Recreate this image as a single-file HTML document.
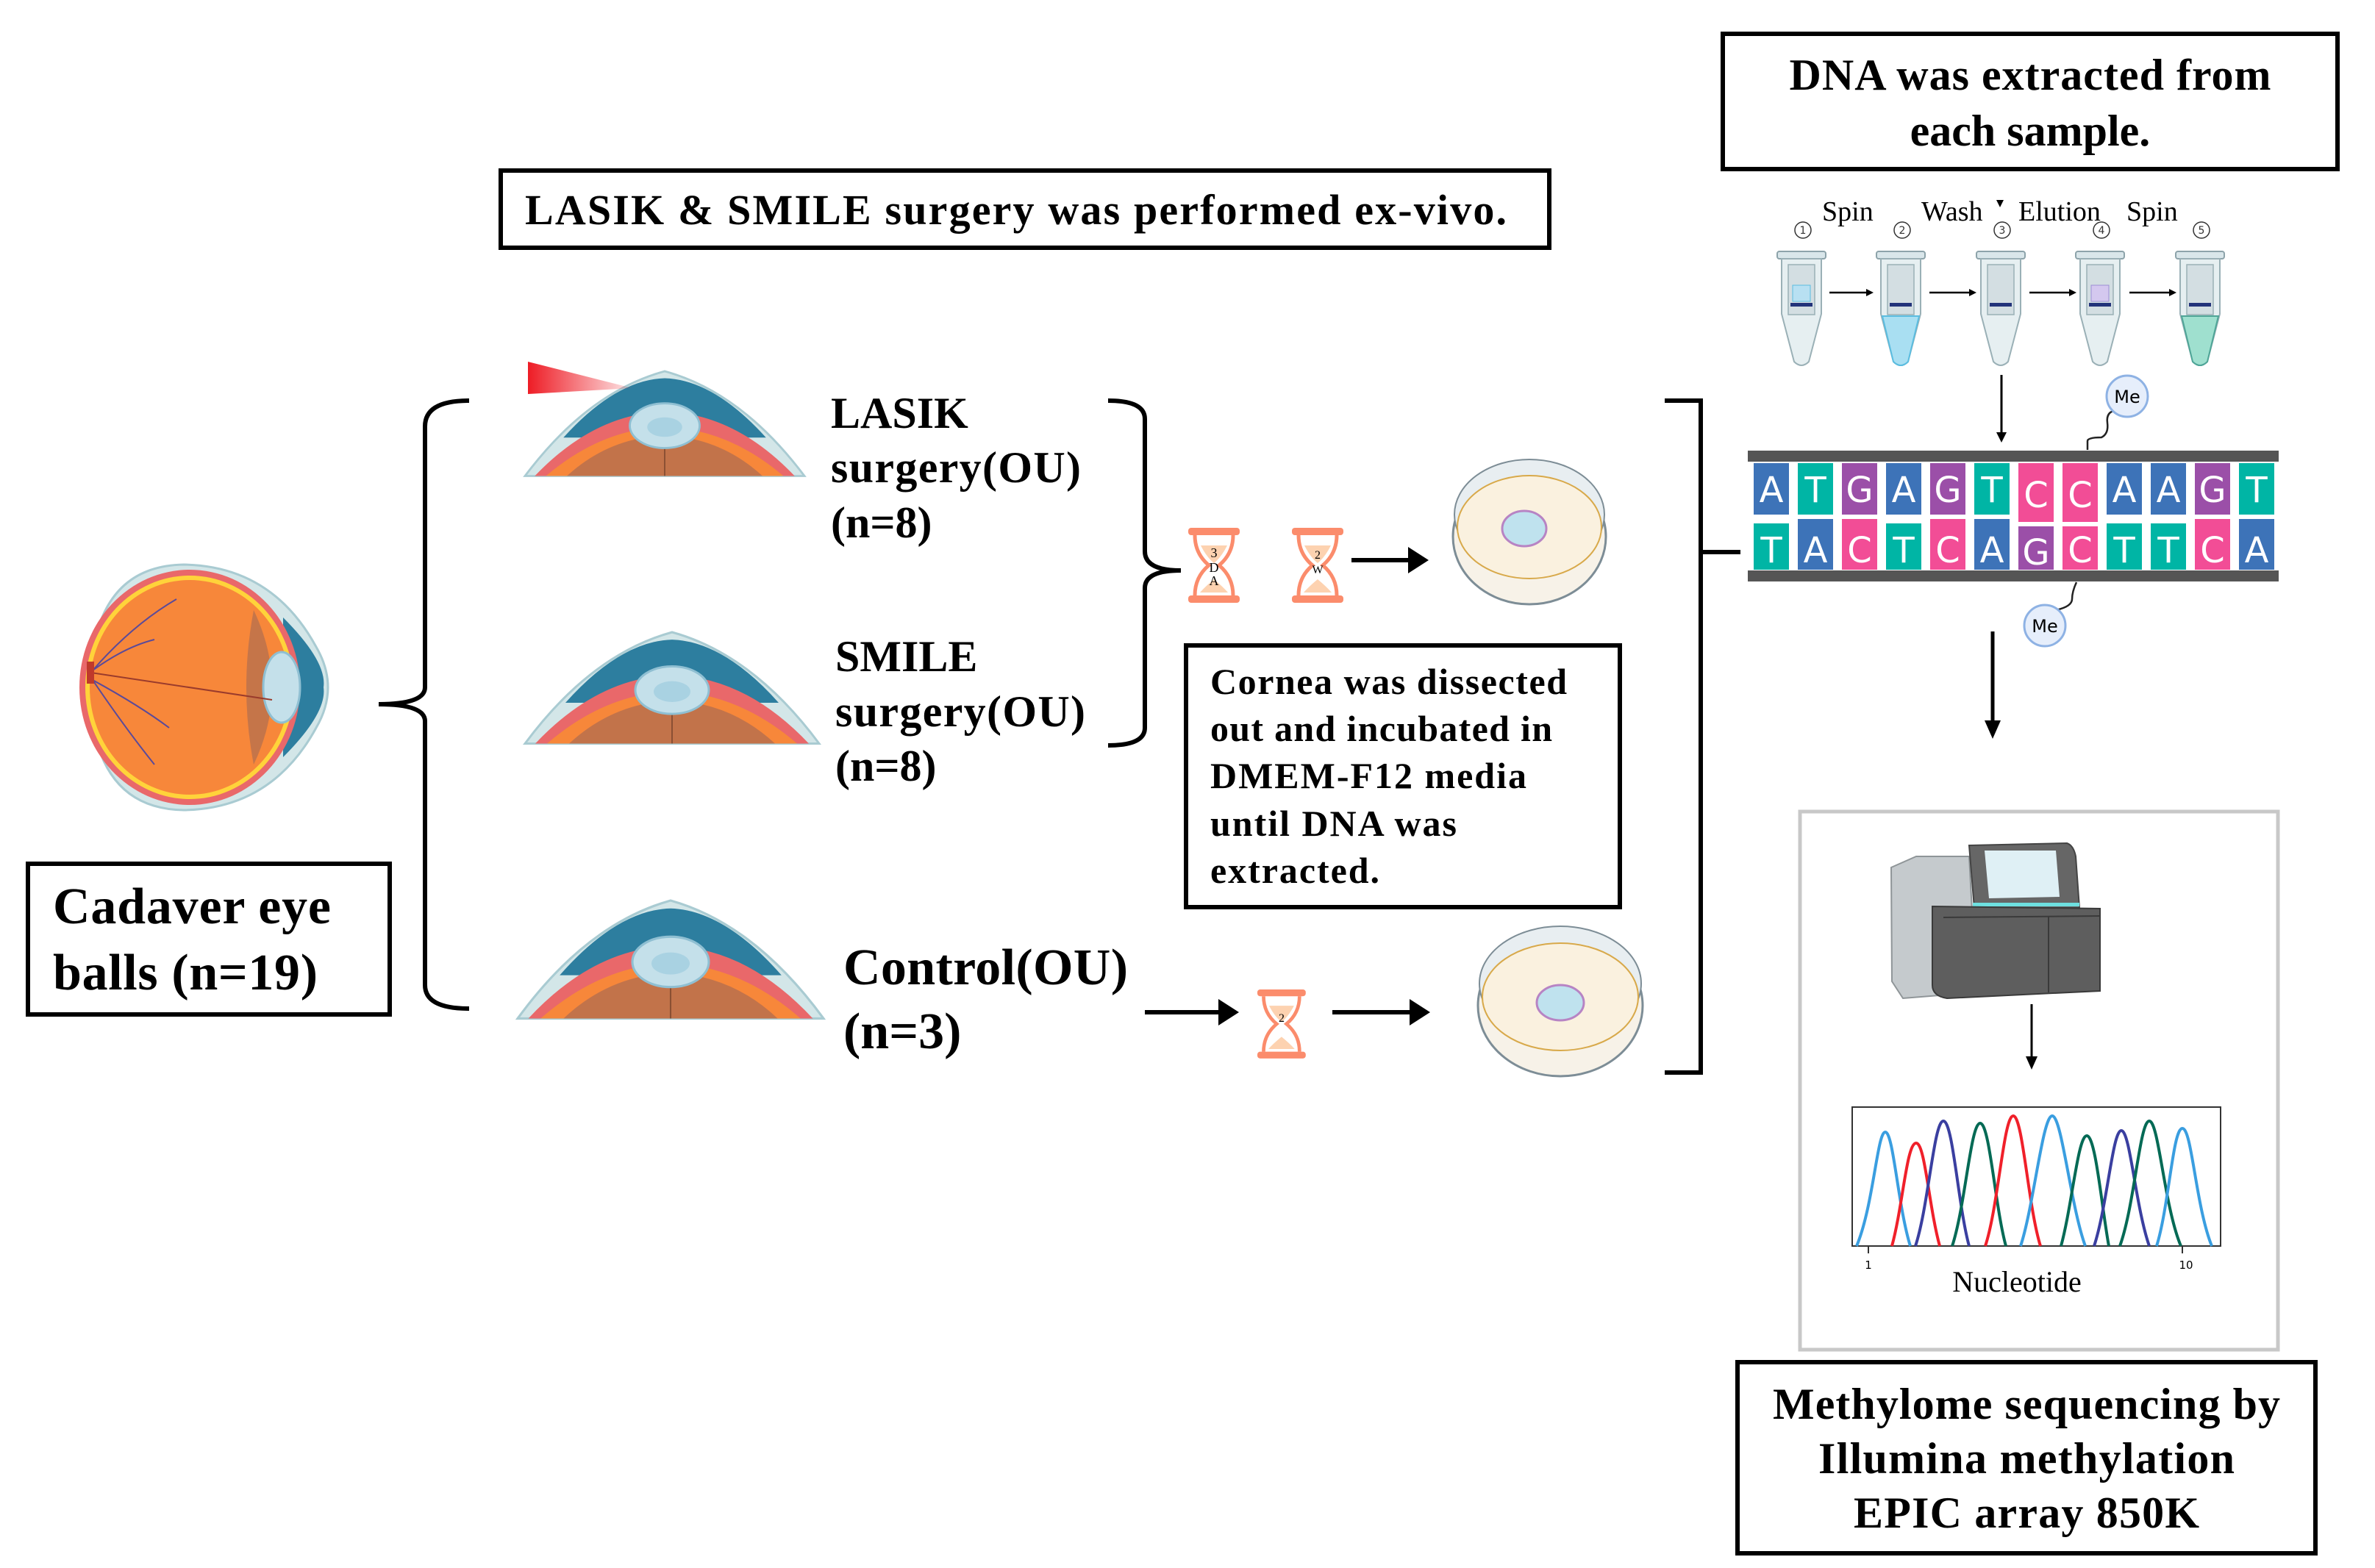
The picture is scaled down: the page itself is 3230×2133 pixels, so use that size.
<!DOCTYPE html>
<html><head><meta charset="utf-8"><style>
html,body{margin:0;padding:0;background:#fff;}
svg{display:block;}
text{font-family:"Liberation Serif",serif;}
.sans text{font-family:"DejaVu Sans",sans-serif;}
</style></head><body>
<svg width="3230" height="2133" viewBox="0 0 3230 2133" xmlns="http://www.w3.org/2000/svg">
<defs>
 <g id="eyehalf">
  <path d="M0,150 Q90,30 200,0 Q310,30 400,150 Z" fill="#d3e6e8" stroke="#a9cbd2" stroke-width="3"/>
  <path d="M55,95 Q130,12 200,10 Q270,12 345,95 Z" fill="#2d7e9f"/>
  <path d="M90,90 Q200,40 310,90 Z" fill="#1e5f80"/>
  <path d="M14,150 Q100,60 200,58 Q300,60 386,150 Z" fill="#e9686a"/>
  <path d="M30,150 Q110,82 200,80 Q290,82 370,150 Z" fill="#f7873a"/>
  <path d="M60,150 Q120,95 200,92 Q280,95 340,150 Z" fill="#b8704d" opacity="0.85"/>
  <line x1="200" y1="95" x2="200" y2="150" stroke="#8a4f33" stroke-width="2"/>
  <ellipse cx="200" cy="78" rx="50" ry="32" fill="#c4e0ea" stroke="#8fbfd2" stroke-width="3"/>
  <ellipse cx="200" cy="80" rx="25" ry="14" fill="#a9d2e2"/>
 </g>
 <g id="hg">
  <rect x="0" y="0" width="70" height="10" rx="4" fill="#fb8c6c"/>
  <rect x="0" y="92" width="70" height="10" rx="4" fill="#fb8c6c"/>
  <path d="M9,10 Q9,35 28,51 Q9,67 9,92 M61,10 Q61,35 42,51 Q61,67 61,92" fill="none" stroke="#fb8c6c" stroke-width="5"/>
  <path d="M17,24 L53,24 Q45,40 35,48 Q25,40 17,24 Z M35,70 Q47,80 54,88 L16,88 Q23,80 35,70 Z" fill="#fdd2b0"/>
 </g>
 <g id="tube">
  <rect x="-33" y="0" width="66" height="10" rx="3" fill="#d9e6ea" stroke="#8da3aa" stroke-width="2"/>
  <path d="M-27,10 L27,10 L27,85 L10,150 Q0,160 -10,150 L-27,85 Z" fill="#e6eff1" stroke="#9ab0b6" stroke-width="2"/>
  <rect x="-18" y="18" width="36" height="68" fill="#d3dee2" stroke="#9ab0b6" stroke-width="1.5"/>
 </g>
 <linearGradient id="laser" x1="0" x2="1"><stop offset="0" stop-color="#ee1c25"/><stop offset="1" stop-color="#ee1c25" stop-opacity="0.1"/></linearGradient>
</defs>

<rect x="38" y="1175" width="492" height="205" fill="none" stroke="#000" stroke-width="6"/>
<text x="72" y="1256" font-size="70" font-weight="bold" textLength="378">Cadaver eye</text>
<text x="72" y="1346" font-size="70" font-weight="bold" textLength="360">balls (n=19)</text>

<g>
 <path d="M250,768 Q370,770 430,880 Q462,935 430,990 Q370,1100 250,1102 Q125,1100 122,935 Q125,770 250,768 Z" fill="#d3e6e8" stroke="#a9cbd2" stroke-width="3"/>
 <path d="M385,840 Q445,900 440,935 Q445,970 385,1030 Z" fill="#2d7e9f"/>
 <ellipse cx="258" cy="935" rx="150" ry="160" fill="#e9686a"/>
 <ellipse cx="258" cy="935" rx="142" ry="152" fill="#ffd33a"/>
 <ellipse cx="258" cy="935" rx="136" ry="146" fill="#f7873a"/>
 <path d="M345,830 Q395,935 345,1040 Q325,935 345,830 Z" fill="#b8704d" opacity="0.8"/>
 <ellipse cx="383" cy="935" rx="25" ry="48" fill="#c4e0ea" stroke="#8fbfd2" stroke-width="3"/>
 <line x1="124" y1="915" x2="370" y2="952" stroke="#9a3b2c" stroke-width="2"/>
 <path d="M126,912 Q180,850 240,815 M126,912 Q170,880 210,870 M126,925 Q170,990 210,1040 M126,925 Q190,960 230,990" fill="none" stroke="#5a4a9a" stroke-width="2"/>
 <rect x="118" y="900" width="10" height="30" fill="#c0392b"/>
</g>

<path d="M638,545 Q578,545 578,580 L578,935 Q578,958 515,958 Q578,958 578,981 L578,1340 Q578,1372 638,1372" fill="none" stroke="#000" stroke-width="6"/>

<rect x="681" y="232" width="1426" height="105" fill="none" stroke="#000" stroke-width="6"/>
<text x="714" y="305" font-size="58" font-weight="bold" textLength="1335">LASIK &amp; SMILE surgery was performed ex-vivo.</text>

<use href="#eyehalf" transform="translate(714,505) scale(0.95,0.95)"/>
<path d="M718,492 L860,528 L718,536 Z" fill="url(#laser)"/>
<use href="#eyehalf" transform="translate(714,860) scale(1.0,1.01)"/>
<use href="#eyehalf" transform="translate(704,1225) scale(1.04,1.07)"/>

<g font-weight="bold" font-size="60">
<text x="1130" y="582">LASIK</text>
<text x="1130" y="656" textLength="340">surgery(OU)</text>
<text x="1130" y="731">(n=8)</text>
<text x="1136" y="913">SMILE</text>
<text x="1136" y="988" textLength="340">surgery(OU)</text>
<text x="1136" y="1062">(n=8)</text>
</g>
<g font-weight="bold" font-size="70">
<text x="1147" y="1339" textLength="387">Control(OU)</text>
<text x="1147" y="1426">(n=3)</text>
</g>

<path d="M1507,545 Q1557,545 1557,570 L1557,750 Q1557,776 1606,776 Q1557,776 1557,800 L1557,990 Q1557,1014 1507,1014" fill="none" stroke="#000" stroke-width="6"/>

<use href="#hg" transform="translate(1616,718)"/>
<text x="1651" y="758" font-size="18" text-anchor="middle">3</text>
<text x="1651" y="778" font-size="18" text-anchor="middle">D</text>
<text x="1651" y="796" font-size="18" text-anchor="middle">A</text>
<use href="#hg" transform="translate(1757,718)"/>
<text x="1792" y="760" font-size="16" text-anchor="middle">2</text>
<text x="1792" y="780" font-size="16" text-anchor="middle">W</text>
<line x1="1838" y1="762" x2="1920" y2="762" stroke="#000" stroke-width="6"/>
<path d="M1915,744 L1943,762 L1915,780 Z" fill="#000"/>

<g>
 <ellipse cx="2080" cy="730" rx="104" ry="92" fill="#f7f2e8" stroke="#7d8d96" stroke-width="3"/>
 <ellipse cx="2080" cy="700" rx="102" ry="75" fill="#e8eef1" stroke="#7d8d96" stroke-width="2"/>
 <ellipse cx="2080" cy="717" rx="98" ry="70" fill="#faf1df" stroke="#d8a94a" stroke-width="2"/>
 <ellipse cx="2073" cy="719" rx="30" ry="24" fill="#bfe2ee" stroke="#b784c4" stroke-width="3"/>
</g>

<rect x="1613" y="878" width="590" height="356" fill="none" stroke="#000" stroke-width="6"/>
<g font-weight="bold" font-size="50">
<text x="1646" y="944" textLength="485">Cornea was dissected</text>
<text x="1646" y="1008" textLength="465">out and incubated in</text>
<text x="1646" y="1072" textLength="430">DMEM-F12 media</text>
<text x="1646" y="1137" textLength="335">until DNA was</text>
<text x="1646" y="1201" textLength="230">extracted.</text>
</g>

<line x1="1557" y1="1377" x2="1665" y2="1377" stroke="#000" stroke-width="6"/>
<path d="M1657,1359 L1685,1377 L1657,1395 Z" fill="#000"/>
<use href="#hg" transform="translate(1710,1346) scale(0.94,0.92)"/>
<text x="1743" y="1390" font-size="16" text-anchor="middle">2</text>
<line x1="1812" y1="1377" x2="1925" y2="1377" stroke="#000" stroke-width="6"/>
<path d="M1917,1359 L1945,1377 L1917,1395 Z" fill="#000"/>
<g>
 <ellipse cx="2122" cy="1368" rx="112" ry="96" fill="#f7f2e8" stroke="#7d8d96" stroke-width="3"/>
 <ellipse cx="2122" cy="1338" rx="110" ry="78" fill="#e8eef1" stroke="#7d8d96" stroke-width="2"/>
 <ellipse cx="2122" cy="1356" rx="106" ry="73" fill="#faf1df" stroke="#d8a94a" stroke-width="2"/>
 <ellipse cx="2122" cy="1364" rx="32" ry="24" fill="#bfe2ee" stroke="#b784c4" stroke-width="3"/>
</g>

<path d="M2264,545 L2313,545 L2313,1459 L2264,1459 M2313,751 L2367,751" fill="none" stroke="#000" stroke-width="6"/>

<g transform="translate(-12,0)">
<rect x="2355" y="46" width="836" height="184" fill="none" stroke="#000" stroke-width="6"/>
<text x="2773" y="122" font-size="60" font-weight="bold" text-anchor="middle" textLength="655">DNA was extracted from</text>
<text x="2773" y="198" font-size="60" font-weight="bold" text-anchor="middle">each sample.</text>

<g font-size="38">
<text x="2490" y="300">Spin</text>
<text x="2625" y="300">Wash</text>
<text x="2757" y="300">Elution</text>
<text x="2904" y="300">Spin</text>
</g>
<path d="M2727,272 L2737,272 L2732,282 Z" fill="#000"/>
<g fill="none" stroke="#333" stroke-width="1.5">
<circle cx="2464" cy="313" r="11"/><circle cx="2599" cy="313" r="11"/><circle cx="2735" cy="313" r="11"/><circle cx="2870" cy="313" r="11"/><circle cx="3006" cy="313" r="11"/>
</g>
<g class="sans" font-size="14" text-anchor="middle" fill="#333">
<text x="2464" y="318">1</text><text x="2599" y="318">2</text><text x="2735" y="318">3</text><text x="2870" y="318">4</text><text x="3006" y="318">5</text>
</g>
<use href="#tube" transform="translate(2462,342)"/>
<use href="#tube" transform="translate(2597,342)"/>
<path d="M2572,430 L2622,430 L2607,492 Q2597,502 2587,492 Z" fill="#a9dff2" stroke="#5bbde0" stroke-width="2"/>
<use href="#tube" transform="translate(2733,342)"/>
<use href="#tube" transform="translate(2868,342)"/>
<use href="#tube" transform="translate(3004,342)"/>
<path d="M2979,430 L3029,430 L3014,492 Q3004,502 2994,492 Z" fill="#9fe0cf" stroke="#4fa597" stroke-width="2"/>
<rect x="2450" y="388" width="24" height="22" fill="#b8e0f2" stroke="#5bbde0"/>
<rect x="2856" y="388" width="24" height="22" fill="#d4c8ef" stroke="#9c8ed4"/>
<g fill="#22337a"><rect x="2447" y="412" width="30" height="5"/><rect x="2582" y="412" width="30" height="5"/><rect x="2718" y="412" width="30" height="5"/><rect x="2853" y="412" width="30" height="5"/><rect x="2989" y="412" width="30" height="5"/></g>
<g stroke="#000" stroke-width="2.5">
<line x1="2500" y1="398" x2="2550" y2="398"/><line x1="2636" y1="398" x2="2690" y2="398"/><line x1="2772" y1="398" x2="2826" y2="398"/><line x1="2908" y1="398" x2="2962" y2="398"/>
</g>
<g fill="#000"><path d="M2550,393 L2560,398 L2550,403Z"/><path d="M2690,393 L2700,398 L2690,403Z"/><path d="M2826,393 L2836,398 L2826,403Z"/><path d="M2962,393 L2972,398 L2962,403Z"/></g>
<line x1="2734" y1="510" x2="2734" y2="590" stroke="#000" stroke-width="3"/>
<path d="M2727,588 L2741,588 L2734,602Z" fill="#000"/>

<rect x="2389" y="613" width="722" height="15" fill="#555"/>
<rect x="2389" y="776" width="722" height="15" fill="#555"/>
<g>
<rect x="2397" y="630" width="48" height="70" fill="#3d73b8"/><rect x="2457" y="630" width="48" height="70" fill="#00b5a5"/><rect x="2517" y="630" width="48" height="70" fill="#9b4fa8"/><rect x="2577" y="630" width="48" height="70" fill="#3d73b8"/><rect x="2637" y="630" width="48" height="70" fill="#9b4fa8"/><rect x="2697" y="630" width="48" height="70" fill="#00b5a5"/><rect x="2757" y="630" width="48" height="80" fill="#f24d96"/><rect x="2817" y="630" width="48" height="80" fill="#f24d96"/><rect x="2877" y="630" width="48" height="70" fill="#3d73b8"/><rect x="2937" y="630" width="48" height="70" fill="#3d73b8"/><rect x="2997" y="630" width="48" height="70" fill="#9b4fa8"/><rect x="3057" y="630" width="48" height="70" fill="#00b5a5"/>
<rect x="2397" y="712" width="48" height="63" fill="#00b5a5"/><rect x="2457" y="706" width="48" height="69" fill="#3d73b8"/><rect x="2517" y="706" width="48" height="69" fill="#f24d96"/><rect x="2577" y="712" width="48" height="63" fill="#00b5a5"/><rect x="2637" y="706" width="48" height="69" fill="#f24d96"/><rect x="2697" y="706" width="48" height="69" fill="#3d73b8"/><rect x="2757" y="716" width="48" height="59" fill="#9b4fa8"/><rect x="2817" y="716" width="48" height="59" fill="#f24d96"/><rect x="2877" y="712" width="48" height="63" fill="#00b5a5"/><rect x="2937" y="712" width="48" height="63" fill="#00b5a5"/><rect x="2997" y="706" width="48" height="69" fill="#f24d96"/><rect x="3057" y="706" width="48" height="69" fill="#3d73b8"/>
</g>
<g class="sans" font-size="48" fill="#fff" text-anchor="middle">
<text x="2421" y="683">A</text><text x="2481" y="683">T</text><text x="2541" y="683">G</text><text x="2601" y="683">A</text><text x="2661" y="683">G</text><text x="2721" y="683">T</text><text x="2781" y="690">C</text><text x="2841" y="690">C</text><text x="2901" y="683">A</text><text x="2961" y="683">A</text><text x="3021" y="683">G</text><text x="3081" y="683">T</text>
<text x="2421" y="765">T</text><text x="2481" y="765">A</text><text x="2541" y="765">C</text><text x="2601" y="765">T</text><text x="2661" y="765">C</text><text x="2721" y="765">A</text><text x="2781" y="768">G</text><text x="2841" y="765">C</text><text x="2901" y="765">T</text><text x="2961" y="765">T</text><text x="3021" y="765">C</text><text x="3081" y="765">A</text>
</g>
<path d="M2851,612 L2851,600 Q2851,595 2870,595 Q2880,590 2878,575 Q2876,560 2890,558" fill="none" stroke="#222" stroke-width="2.5"/>
<path d="M2836,792 Q2830,805 2830,815 Q2830,825 2808,830" fill="none" stroke="#222" stroke-width="2.5"/>
<circle cx="2905" cy="539" r="28" fill="#e6eefb" stroke="#8eb2e4" stroke-width="3"/>
<circle cx="2793" cy="851" r="28" fill="#e6eefb" stroke="#8eb2e4" stroke-width="3"/>
<g class="sans" font-size="24" text-anchor="middle">
<text x="2905" y="548">Me</text>
<text x="2793" y="860">Me</text>
</g>

<line x1="2722" y1="859" x2="2722" y2="985" stroke="#000" stroke-width="5"/>
<path d="M2711,980 L2733,980 L2722,1005Z" fill="#000"/>

<rect x="2460" y="1104" width="650" height="732" fill="#fff" stroke="#c8c8c8" stroke-width="5"/>
<g>
 <path d="M2584,1180 L2618,1165 L2690,1165 L2700,1350 L2600,1358 L2585,1335 Z" fill="#c5cacd" stroke="#8f9598" stroke-width="2"/>
 <path d="M2690,1150 L2823,1147 Q2832,1150 2835,1165 L2840,1235 L2697,1235 Z" fill="#666" stroke="#444" stroke-width="2"/>
 <path d="M2711,1157 L2808,1157 L2813,1220 L2717,1222 Z" fill="#dff0f5"/>
 <rect x="2695" y="1228" width="145" height="5" fill="#6ee0e0"/>
 <path d="M2640,1233 L2868,1236 L2868,1348 L2660,1358 Q2640,1355 2640,1340 Z" fill="#5e5e5e" stroke="#3a3a3a" stroke-width="2"/>
 <line x1="2798" y1="1247" x2="2798" y2="1350" stroke="#3a3a3a" stroke-width="2"/>
 <line x1="2655" y1="1248" x2="2868" y2="1246" stroke="#3a3a3a" stroke-width="2"/>
</g>
<line x1="2775" y1="1366" x2="2775" y2="1440" stroke="#000" stroke-width="3"/>
<path d="M2767,1437 L2783,1437 L2775,1455Z" fill="#000"/>
<rect x="2531" y="1506" width="501" height="189" fill="#fff" stroke="#333" stroke-width="2"/>
<g fill="none" stroke-width="4">
<path d="M2537,1695 C2560,1640 2565,1540 2576,1540 C2587,1540 2593,1640 2610,1695" stroke="#3a9ee0"/>
<path d="M2585,1695 C2600,1640 2605,1555 2618,1555 C2630,1555 2635,1640 2650,1695" stroke="#f0202a"/>
<path d="M2617,1695 C2635,1640 2642,1525 2655,1525 C2668,1525 2675,1640 2690,1695" stroke="#3a3fa0"/>
<path d="M2667,1695 C2685,1640 2692,1528 2705,1528 C2718,1528 2725,1640 2740,1695" stroke="#046a55"/>
<path d="M2712,1695 C2730,1640 2737,1518 2750,1518 C2763,1518 2770,1640 2787,1695" stroke="#f0202a"/>
<path d="M2760,1695 C2778,1640 2790,1518 2803,1518 C2816,1518 2828,1640 2848,1695" stroke="#3a9ee0"/>
<path d="M2815,1695 C2830,1640 2838,1545 2850,1545 C2862,1545 2870,1640 2880,1695" stroke="#046a55"/>
<path d="M2860,1695 C2878,1640 2885,1538 2897,1538 C2909,1538 2916,1640 2935,1695" stroke="#3a3fa0"/>
<path d="M2895,1695 C2915,1640 2922,1525 2935,1525 C2948,1525 2955,1640 2978,1695" stroke="#046a55"/>
<path d="M2945,1695 C2962,1640 2967,1535 2980,1535 C2993,1535 2998,1640 3020,1695" stroke="#3a9ee0"/>
</g>
<line x1="2553" y1="1695" x2="2553" y2="1705" stroke="#333" stroke-width="2"/>
<line x1="2980" y1="1695" x2="2980" y2="1705" stroke="#333" stroke-width="2"/>
<g class="sans" font-size="15" text-anchor="middle">
<text x="2553" y="1726">1</text>
<text x="2985" y="1726">10</text>
</g>
<text x="2755" y="1757" font-size="40" text-anchor="middle">Nucleotide</text>

<rect x="2375" y="1853" width="786" height="260" fill="none" stroke="#000" stroke-width="6"/>
<g font-size="60" font-weight="bold" text-anchor="middle">
<text x="2768" y="1930" textLength="690">Methylome sequencing by</text>
<text x="2768" y="2004" textLength="566">Illumina methylation</text>
<text x="2768" y="2078" textLength="470">EPIC array 850K</text>
</g>
</g>
</svg>
</body></html>
